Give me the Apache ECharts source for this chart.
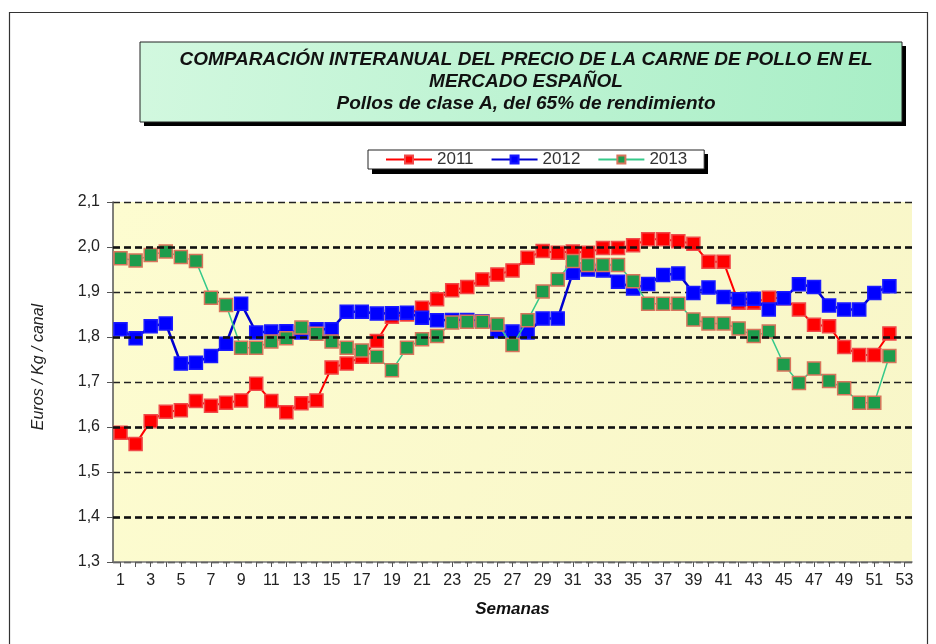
<!DOCTYPE html>
<html>
<head>
<meta charset="utf-8">
<script src="https://cdn.jsdelivr.net/npm/echarts@6/dist/echarts.min.js"></script>
<style>
  html, body { margin: 0; padding: 0; background: #fff; }
  #chart { width: 936px; height: 644px; }
</style>
</head>
<body>
<div id="chart"></div>
<script>
// semanas 1..53
const semanas = [];
for (let i = 1; i <= 53; i++) semanas.push(String(i));

// precios (euros / kg canal)
const precios2011 = [1.587, 1.562, 1.613, 1.634, 1.637, 1.658, 1.647, 1.654, 1.659, 1.696,
  1.658, 1.633, 1.653, 1.659, 1.732, 1.741, 1.756, 1.791, 1.845, 1.850,
  1.865, 1.884, 1.904, 1.911, 1.928, 1.939, 1.948, 1.976, 1.991, 1.987,
  1.990, 1.987, 1.998, 1.998, 2.004, 2.017, 2.017, 2.013, 2.007, 1.967,
  1.967, 1.876, 1.876, 1.887, 1.886, 1.861, 1.827, 1.824, 1.778, 1.760,
  1.760, 1.808];
const precios2012 = [1.817, 1.797, 1.824, 1.830, 1.741, 1.743, 1.758, 1.785, 1.874, 1.810,
  1.812, 1.813, 1.810, 1.817, 1.817, 1.856, 1.856, 1.852, 1.853, 1.854,
  1.843, 1.837, 1.838, 1.838, 1.835, 1.813, 1.812, 1.810, 1.841, 1.841,
  1.943, 1.950, 1.948, 1.923, 1.908, 1.918, 1.938, 1.941, 1.898, 1.910,
  1.889, 1.884, 1.885, 1.861, 1.886, 1.917, 1.911, 1.870, 1.861, 1.861,
  1.898, 1.913];
const precios2013 = [1.975, 1.970, 1.982, 1.990, 1.978, 1.969, 1.887, 1.871, 1.776, 1.776,
  1.790, 1.797, 1.821, 1.807, 1.790, 1.776, 1.770, 1.756, 1.726, 1.776,
  1.795, 1.802, 1.832, 1.834, 1.834, 1.828, 1.782, 1.837, 1.901, 1.928,
  1.969, 1.960, 1.960, 1.960, 1.924, 1.874, 1.874, 1.874, 1.839, 1.830,
  1.830, 1.819, 1.802, 1.812, 1.739, 1.698, 1.730, 1.702, 1.686, 1.654,
  1.654, 1.758];

// líneas de cuadrícula más gruesas
const lineasFuertes = [2.0, 1.8, 1.6, 1.4];

const fuente = "'Liberation Sans', Arial, sans-serif";
const fuenteEstrecha = "'Liberation Sans Narrow', 'Liberation Sans', Arial, sans-serif";

const myChart = echarts.init(document.getElementById('chart'));

const serie = (name, data, lineColor, lineWidth, fill, border) => ({
  name: name,
  type: 'line',
  data: data,
  symbol: 'rect',
  symbolSize: 13,
  showAllSymbol: true,
  lineStyle: { color: lineColor, width: lineWidth },
  itemStyle: { color: fill, borderColor: border, borderWidth: 1.5 },
  emphasis: { disabled: true }
});

const options = {
  animation: false,
  backgroundColor: '#ffffff',
  graphic: [
    // marco exterior
    {
      type: 'rect', z: 0,
      shape: { x: 9.5, y: 12.5, width: 918, height: 640 },
      style: { fill: 'none', stroke: '#333', lineWidth: 1.2 }
    },
    // sombra + caja del título
    {
      type: 'rect', z: 1,
      shape: { x: 144, y: 46, width: 762, height: 80 },
      style: { fill: '#000' }
    },
    {
      type: 'rect', z: 2,
      shape: { x: 140, y: 42, width: 762, height: 80 },
      style: {
        fill: new echarts.graphic.LinearGradient(0, 0, 1, 1, [
          { offset: 0, color: '#d2f8df' },
          { offset: 1, color: '#a8eec6' }
        ]),
        stroke: '#222', lineWidth: 1
      }
    },
    // sombra de la leyenda
    {
      type: 'rect', z: 1,
      shape: { x: 372, y: 154, width: 336, height: 20 },
      style: { fill: '#000' }
    }
  ],
  title: {
    text: 'COMPARACIÓN INTERANUAL DEL PRECIO DE LA CARNE DE POLLO EN EL\nMERCADO ESPAÑOL\nPollos de clase A, del 65% de rendimiento',
    left: 521,
    top: 44,
    textAlign: 'center',
    z: 5,
    textStyle: {
      fontFamily: fuente,
      fontSize: 19,
      fontWeight: 'bold',
      fontStyle: 'italic',
      color: '#111',
      lineHeight: 22
    }
  },
  legend: {
    data: ['2011', '2012', '2013'],
    left: 368,
    top: 150,
    itemWidth: 46,
    itemHeight: 10,
    itemGap: 17,
    padding: [1, 17, 1, 17],
    backgroundColor: '#fff',
    borderColor: '#222',
    borderWidth: 1,
    z: 5,
    textStyle: { fontFamily: fuente, fontSize: 17, color: '#333' }
  },
  grid: {
    left: 113,
    right: 24,
    top: 202,
    bottom: 82,
    show: true,
    backgroundColor: new echarts.graphic.LinearGradient(0, 0, 1, 1, [
      { offset: 0, color: '#fdfcd0' },
      { offset: 1, color: '#f8f6c8' }
    ]),
    borderWidth: 0
  },
  xAxis: {
    type: 'category',
    data: semanas,
    boundaryGap: true,
    name: 'Semanas',
    nameLocation: 'middle',
    nameGap: 39,
    nameTextStyle: { fontFamily: fuente, fontSize: 17, fontWeight: 'bold', fontStyle: 'italic', color: '#111' },
    axisLine: { lineStyle: { color: '#777', width: 1.5 } },
    axisTick: { show: true, alignWithLabel: true, interval: 0, length: 5, lineStyle: { color: '#555' } },
    axisLabel: { interval: 1, margin: 11, fontFamily: fuenteEstrecha, fontSize: 16, color: '#222' },
    splitLine: { show: false }
  },
  yAxis: {
    type: 'value',
    min: 1.3,
    max: 2.1,
    interval: 0.1,
    name: 'Euros / Kg / canal',
    nameLocation: 'middle',
    nameGap: 66,
    nameTextStyle: { fontFamily: fuente, fontSize: 16, fontStyle: 'italic', color: '#222', padding: [0, 0, 0, 30] },
    axisLine: { show: true, lineStyle: { color: '#555', width: 1.5 } },
    axisTick: { show: true, length: 6, lineStyle: { color: '#555' } },
    axisLabel: {
      margin: 13,
      fontFamily: fuente, fontSize: 16, color: '#222',
      formatter: v => v.toFixed(1).replace('.', ',')
    },
    splitLine: { show: true, lineStyle: { color: '#222', width: 1.3, type: [7, 4] } }
  },
  series: [
    Object.assign(serie('2011', precios2011, '#ff0000', 2, '#ff0000', '#f04a4a'), {
      markLine: {
        silent: true,
        symbol: 'none',
        label: { show: false },
        lineStyle: { color: '#111', width: 2.5, type: [7, 4] },
        data: lineasFuertes.map(v => ({ yAxis: v }))
      },
      z: 2
    }),
    Object.assign(serie('2012', precios2012, '#0000d0', 2.5, '#0000ff', '#1a1aff'), { z: 3 }),
    Object.assign(serie('2013', precios2013, '#36c98a', 1.5, '#1d9c4c', '#d8745c'), { z: 4 })
  ]
};

myChart.setOption(options);
</script>
</body>
</html>
